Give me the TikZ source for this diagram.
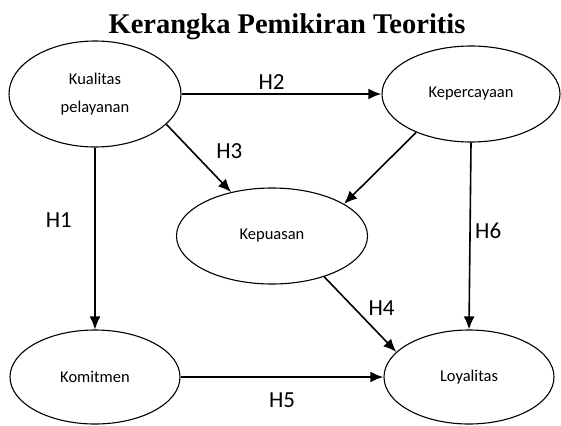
\documentclass[tikz,border=0pt]{standalone}
\usepackage{fontspec}
\setmainfont{Carlito}
\newfontfamily\titlefont{Liberation Serif}
\usetikzlibrary{arrows.meta,shapes.geometric}
\tikzset{every picture/.style={line width=1pt}}
\tikzstyle{var}=[ellipse,draw,line width=1.1pt,inner sep=0pt,minimum width=172pt,minimum height=96pt,align=center,font=\fontsize{16.5}{28}\selectfont]
\tikzstyle{hyp}=[font=\fontsize{23}{25}\selectfont]

\begin{document}
\begin{tikzpicture}[x=1pt,y=-1pt]
\useasboundingbox (0,0) rectangle (561,425);
\node[font=\titlefont\bfseries\fontsize{28.5}{30}\selectfont] (title) at (287,27) {Kerangka Pemikiran Teoritis};
\node[var,minimum height=106pt] (KP) at (95,94) {Kualitas\\pelayanan};
\node[var,minimum width=178pt] (KC) at (471,94) {Kepercayaan};
\node[var,minimum width=191pt] (KS) at (272,236) {Kepuasan};
\node[var,minimum width=170pt,minimum height=94pt] (KM) at (95,377) {Komitmen};
\node[var,minimum width=170pt,minimum height=94pt] (LY) at (469,377) {Loyalitas};
\path[->,>={Latex[length=13pt,width=11pt]},line width=1.6pt]
(KP) edge[line width=2.4pt] node[hyp,pos=0.45,above=0pt] {H2} (KC)
(KP.south) edge node[hyp,pos=0.4,left=19pt] {H1} (KM.north)
(KP.-23) edge node[hyp,pos=0.4,right=20pt] {H3} (KS.133)
(KC.215) edge (KS.24)
(KC.south) edge node[hyp,pos=0.47,right=1pt] {H6} (LY.north)
(KS.-38) edge node[hyp,pos=0.42,right=10pt] {H4} (LY.161)
(KM) edge[line width=2.4pt] node[hyp,below=11pt] {H5} (LY);
\end{tikzpicture}
\end{document}
